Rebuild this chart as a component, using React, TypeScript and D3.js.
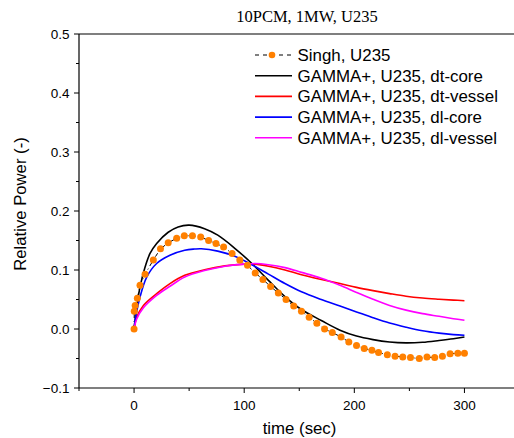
import React from "react";
import * as d3 from "d3";

// ---- data ----
const singhTime = [0, 0.2, 1, 3, 5.4, 10, 17.5, 24, 31, 38.7, 45.6, 53, 60.5, 67.7, 74.4, 81.3, 89, 96, 103, 110, 117, 124, 131, 138, 145, 152, 159, 166, 173, 180, 188, 195, 202, 209, 216, 222, 230, 237, 244, 251, 259, 266, 273, 280, 287, 294, 300];
const singhPower = [0, 0.03, 0.04, 0.052, 0.074, 0.093, 0.117, 0.136, 0.146, 0.154, 0.158, 0.158, 0.156, 0.15, 0.145, 0.139, 0.128, 0.117, 0.108, 0.095, 0.084, 0.072, 0.061, 0.05, 0.039, 0.03, 0.02, 0.0097, 0.0, -0.006, -0.0135, -0.022, -0.028, -0.033, -0.036, -0.04, -0.0435, -0.046, -0.0475, -0.0485, -0.05, -0.0475, -0.0485, -0.046, -0.042, -0.041, -0.041];

const dtCoreTime = [0, 2.4, 5.4, 10, 14.5, 20.5, 31, 40, 50, 64, 76, 92, 107, 122, 137, 152, 170, 187, 202, 217, 232, 247, 262, 277, 290, 300];
const dtCorePower = [0, 0.037, 0.071, 0.105, 0.128, 0.145, 0.164, 0.173, 0.176, 0.17, 0.159, 0.136, 0.111, 0.0825, 0.055, 0.033, 0.0145, -0.002, -0.012, -0.018, -0.022, -0.0235, -0.0225, -0.0195, -0.0165, -0.0136];

const dlCoreTime = [0, 1, 5.4, 11.5, 20.5, 32.6, 46, 55, 61, 76, 92, 107, 122, 137, 152, 170, 187, 202, 217, 232, 247, 262, 277, 290, 300];
const dlCorePower = [0, 0.0147, 0.054, 0.088, 0.111, 0.125, 0.1334, 0.1355, 0.136, 0.132, 0.123, 0.109, 0.093, 0.077, 0.063, 0.05, 0.039, 0.029, 0.019, 0.01, 0.003, -0.003, -0.007, -0.0095, -0.0107];

const vesselTime = [0, 2.4, 8.5, 20.5, 32.6, 46, 64, 82.5, 100, 110, 122, 137, 152, 170, 187, 202, 217, 232, 247, 262, 277, 290, 300];
const dtVesselPower = [0, 0.02, 0.04, 0.06, 0.077, 0.091, 0.1005, 0.107, 0.11, 0.11, 0.1065, 0.1, 0.092, 0.084, 0.077, 0.0705, 0.065, 0.06, 0.0555, 0.0525, 0.0505, 0.049, 0.048];
const dlVesselPower = [0, 0.017, 0.036, 0.057, 0.0724, 0.088, 0.099, 0.1065, 0.11, 0.111, 0.109, 0.104, 0.096, 0.086, 0.074, 0.062, 0.0505, 0.04, 0.032, 0.026, 0.0215, 0.0175, 0.0147];

const xMajorTicks = [0, 100, 200, 300];
const xMinorTicks = [-50, 50, 150, 250];
const yMajorTicks = [-0.1, 0.0, 0.1, 0.2, 0.3, 0.4, 0.5];
const yMinorTicks = [-0.05, 0.05, 0.15, 0.25, 0.35, 0.45];

const legendLabels = [
  "Singh, U235",
  "GAMMA+, U235, dt-core",
  "GAMMA+, U235, dt-vessel",
  "GAMMA+, U235, dl-core",
  "GAMMA+, U235, dl-vessel",
];
const lineColors = ["#000000", "#000000", "#ff0000", "#0000ff", "#ff00ff"];
const markerColor = "#ff8000";

const W = 514;
const H = 438;
const sans = "'Liberation Sans', Arial, sans-serif";

export default function App() {
  const x = d3.scaleLinear().domain([-50, 350]).range([79, 519.5]);
  const y = d3.scaleLinear().domain([-0.1, 0.5]).range([388, 34]);

  const mk = (ts: number[], vs: number[], curve: d3.CurveFactory) =>
    d3
      .line<number>()
      .x((_, i) => x(ts[i]))
      .y((v) => y(v))
      .curve(curve)(vs) || "";

  const series = [
    { t: dtCoreTime, v: dtCorePower, c: lineColors[1] },
    { t: vesselTime, v: dtVesselPower, c: lineColors[2] },
    { t: dlCoreTime, v: dlCorePower, c: lineColors[3] },
    { t: vesselTime, v: dlVesselPower, c: lineColors[4] },
  ];

  const legendX0 = 255;
  const legendX1 = 292;
  const legendY0 = 55;
  const legendDy = 20.7;
  const smooth = d3.curveCatmullRom.alpha(0.5);

  return (
    <svg
      width={W}
      height={H}
      style={{ position: "absolute", left: 0, top: 0, background: "#fff" }}
    >
      <rect x={0} y={0} width={W} height={H} fill="#fff" />
      <text x={307} y={22} textAnchor="middle" fontFamily="'Liberation Serif', 'Times New Roman', serif" fontSize={16.5} fill="#000">
        10PCM, 1MW, U235
      </text>

      {/* frame */}
      <line x1={x(-50)} x2={x(350)} y1={y(0.5)} y2={y(0.5)} stroke="#000" strokeWidth={1.2} />
      <line x1={x(-50)} x2={x(-50)} y1={y(0.5)} y2={y(-0.1)} stroke="#000" strokeWidth={1.2} />
      <line x1={x(-50)} x2={x(350)} y1={y(-0.1)} y2={y(-0.1)} stroke="#000" strokeWidth={1.2} />

      {/* y ticks */}
      {yMajorTicks.map((t) => (
        <g key={"ym" + t}>
          <line x1={x(-50) - 5} x2={x(-50)} y1={y(t)} y2={y(t)} stroke="#000" strokeWidth={1} />
          <text x={x(-50) - 9.5} y={y(t) + 4.8} textAnchor="end" fontFamily={sans} fontSize={13.5} fill="#000">
            {d3.format(".1f")(t)}
          </text>
        </g>
      ))}
      {yMinorTicks.map((t) => (
        <line key={"yn" + t} x1={x(-50) - 3} x2={x(-50)} y1={y(t)} y2={y(t)} stroke="#000" strokeWidth={1} />
      ))}

      {/* x ticks */}
      {xMajorTicks.map((t) => (
        <g key={"xm" + t}>
          <line x1={x(t)} x2={x(t)} y1={y(-0.1)} y2={y(-0.1) + 5} stroke="#000" strokeWidth={1} />
          <text x={x(t)} y={410} textAnchor="middle" fontFamily={sans} fontSize={13.5} fill="#000">
            {t}
          </text>
        </g>
      ))}
      {xMinorTicks.map((t) => (
        <line key={"xn" + t} x1={x(t)} x2={x(t)} y1={y(-0.1)} y2={y(-0.1) + 3} stroke="#000" strokeWidth={1} />
      ))}

      <text x={299.5} y={434} textAnchor="middle" fontFamily={sans} fontSize={16.8} fill="#000">
        time (sec)
      </text>
      <text
        transform={`translate(26,204) rotate(-90)`}
        textAnchor="middle"
        fontFamily={sans}
        fontSize={16.7}
        fill="#000"
      >
        Relative Power (-)
      </text>

      {/* Singh dashed line + markers */}
      <path d={mk(singhTime, singhPower, d3.curveLinear)} fill="none" stroke="#000" strokeWidth={1} strokeDasharray="4,3,1,3" />

      {series.map((s, i) => (
        <path key={"s" + i} d={mk(s.t, s.v, smooth)} fill="none" stroke={s.c} strokeWidth={1.6} />
      ))}

      {singhTime.map((t, i) => (
        <circle key={"p" + i} cx={x(t)} cy={y(singhPower[i])} r={3.5} fill={markerColor} />
      ))}

      {/* legend */}
      {legendLabels.map((lab, i) => {
        const ly = legendY0 + i * legendDy;
        return (
          <g key={"lg" + i}>
            {i === 0 ? (
              <>
                <line x1={legendX0} x2={legendX1} y1={ly} y2={ly} stroke="#000" strokeWidth={1} strokeDasharray="4,4" />
                <circle cx={(legendX0 + legendX1) / 2 - 1.5} cy={ly} r={3.3} fill={markerColor} />
              </>
            ) : (
              <line x1={legendX0} x2={legendX1} y1={ly} y2={ly} stroke={lineColors[i]} strokeWidth={1.6} />
            )}
            <text x={297.5} y={ly + 5.8} fontFamily={sans} fontSize={16.9} fill="#000">
              {lab}
            </text>
          </g>
        );
      })}
    </svg>
  );
}
